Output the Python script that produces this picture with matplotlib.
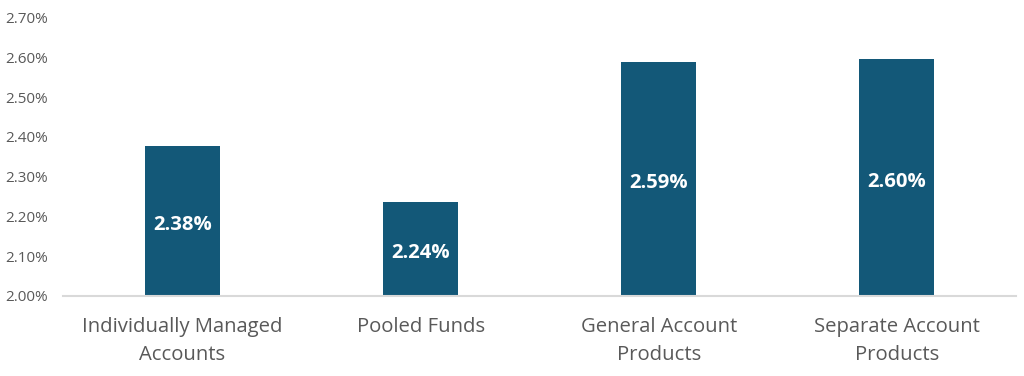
import matplotlib.pyplot as plt
import numpy as np
from matplotlib.ticker import FuncFormatter

categories = ['Individually Managed\nAccounts', 'Pooled Funds',
              'General Account\nProducts', 'Separate Account\nProducts']
values = [2.376, 2.237, 2.589, 2.596]
value_labels = ['2.38%', '2.24%', '2.59%', '2.60%']

plt.rcParams['font.family'] = ['Open Sans', 'DejaVu Sans']

fig = plt.figure(figsize=(10.24, 3.76), dpi=100)
ax = fig.add_axes([0.062, 0.213, 0.93, 0.74])

x_pos = np.arange(len(categories))
bars = ax.bar(x_pos, [v - 2.0 for v in values], bottom=2.0, width=0.315,
              color='#135878', zorder=2)

for rect, label in zip(bars, value_labels):
    ax.annotate(label, (rect.get_x() + rect.get_width() / 2, 2.0 + rect.get_height() / 2),
                xytext=(0, -3), textcoords='offset points',
                ha='center', va='center', color='white',
                fontsize=14.6, fontweight='bold')

ax.set_xlim(-0.5, 3.5)
ax.set_ylim(2.0, 2.7)
ax.set_yticks(np.arange(2.0, 2.71, 0.1))
ax.yaxis.set_major_formatter(FuncFormatter(lambda v, p: f'{v:.2f}%'))
ax.set_xticks(x_pos)
ax.set_xticklabels(categories, fontsize=14.6, color='#595959', linespacing=1.55)
ax.tick_params(axis='y', labelsize=11, labelcolor='#595959', length=0, pad=11.5)
ax.tick_params(axis='x', length=0, pad=15)

for side in ['top', 'right', 'left']:
    ax.spines[side].set_visible(False)
ax.spines['bottom'].set_color('#d9d9d9')
ax.spines['bottom'].set_linewidth(1.5)

fig.savefig('out.png', dpi=100)
